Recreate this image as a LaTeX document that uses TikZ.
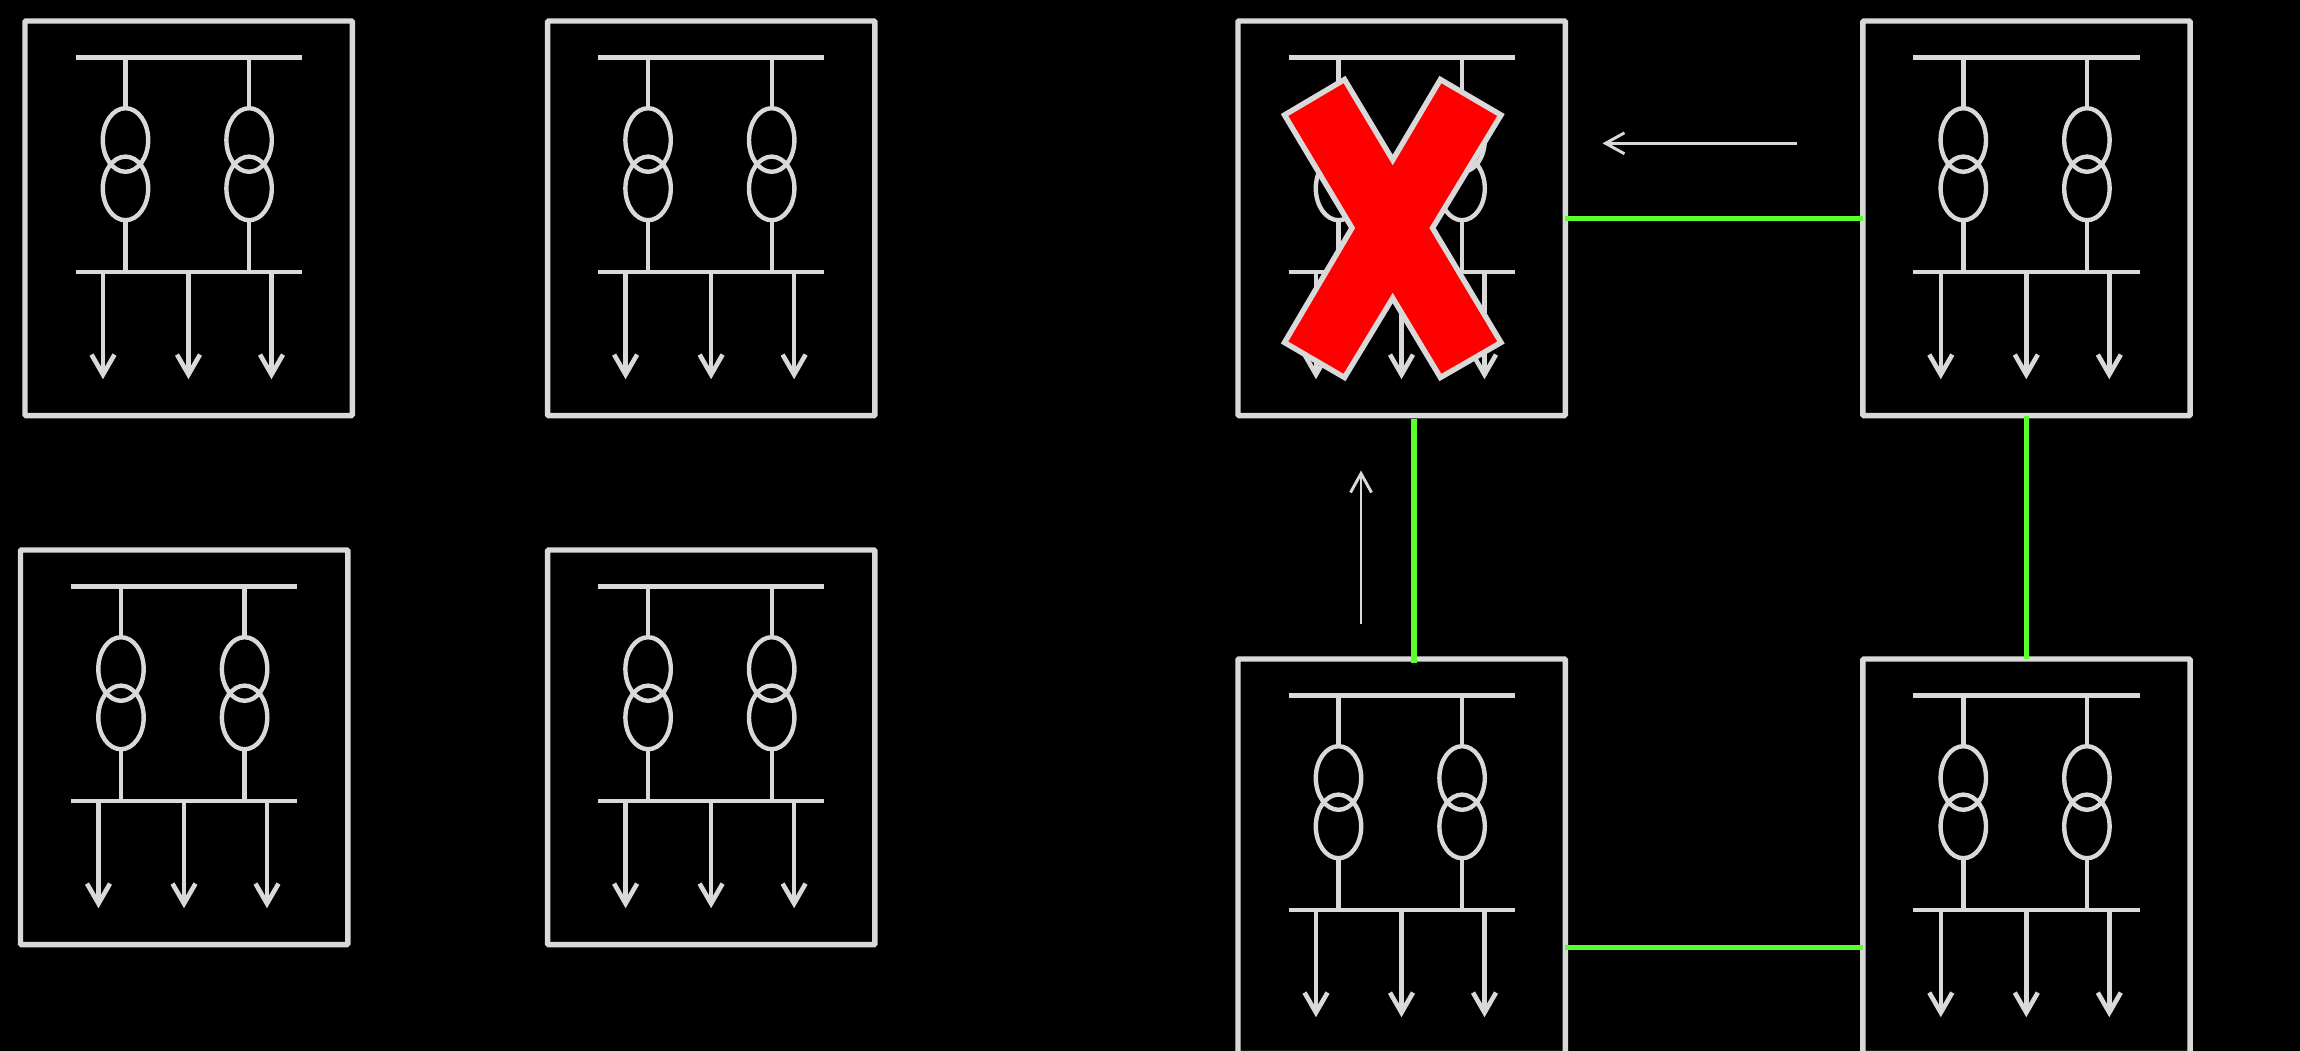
\documentclass[tikz,border=0pt]{standalone}
\usetikzlibrary{arrows.meta}
\definecolor{symgrey}{HTML}{D9D9D9}
\definecolor{linkgreen}{HTML}{5CFF2E}
\tikzset{
  x=1pt,y=-1pt,
  stationbox/.style={draw=symgrey,line width=5.4pt,rounded corners=1pt,minimum width=327.3pt,minimum height=394.6pt,inner sep=0pt,outer sep=0pt,anchor=north west},
  symline/.style={draw=symgrey,line width=4.4pt},
  feeder/.style={symline,-{Straight Barb[length=20pt,width=23pt,line width=4.6pt]}},
  linkline/.style={draw=linkgreen,line width=5.4pt},
  flowarrow/.style={draw=symgrey,line width=2.9pt,-{Straight Barb[length=19pt,width=21pt,line width=2.9pt]}},
  crossmark/.style={draw=symgrey,fill=red,line width=5.4pt,line join=miter}
}
\newcommand{\substation}[3]{%
  \node[stationbox] (#1) at (#2,#3) {};
  \begin{scope}[shift={(#2,#3)}]
    \draw[symline] (50.5,36.3) -- (276.8,36.3);
    \draw[symline] (50.5,251) -- (276.8,251);
    \draw[symline] (100.5,36.3) -- (100.5,87.6);
    \draw[symline] (224.1,36.3) -- (224.1,87.6);
    \draw[symline] (100.5,199) -- (100.5,251);
    \draw[symline] (224.1,199) -- (224.1,251);
    \draw[symline] (100.5,119) ellipse [x radius=22.7,y radius=31.8];
    \draw[symline] (100.5,167.4) ellipse [x radius=22.7,y radius=31.8];
    \draw[symline] (224.1,119) ellipse [x radius=22.7,y radius=31.8];
    \draw[symline] (224.1,167.4) ellipse [x radius=22.7,y radius=31.8];
    \draw[feeder] (78,251) -- (78,358.2);
    \draw[feeder] (163.5,251) -- (163.5,358.2);
    \draw[feeder] (246.5,251) -- (246.5,358.2);
  \end{scope}}
\begin{document}
\begin{tikzpicture}
  \useasboundingbox (0,0) rectangle (2300,1050);
  \fill[black] (-10,-10) rectangle (2310,1060);
  \substation{sa}{25}{21}
  \substation{sb}{547.6}{21}
  \substation{sc}{20.5}{550}
  \substation{sd}{547.6}{550}
  \substation{se}{1238}{21}
  \substation{sf}{1862.8}{21}
  \substation{sg}{1238}{659}
  \substation{sh}{1862.8}{659}
  % red cross over the failed substation
  \draw[crossmark] (1344.5,79.5) -- (1392.7,160) -- (1440.4,79.5) -- (1501,115) -- (1432.5,228)
     -- (1501,342.5) -- (1440.4,377.5) -- (1392.7,298) -- (1344.5,377.5) -- (1284.5,342.5)
     -- (1352,228) -- (1284.5,115) -- cycle;
  % links
  \coordinate (veTop) at (1414,418.7);
  \coordinate (veBot) at (1414,662.6);
  \coordinate (hgL) at (1565,947.5);
  \coordinate (hgR) at (1863,947.5);
  \draw[linkline] (se.east) -- (sf.west);
  \draw[linkline] (sf.south) -- (sh.north);
  \draw[linkline] (veTop) -- (veBot);
  \draw[linkline] (hgL) -- (hgR);
  % flow direction arrows
  \coordinate (fa) at (1797,143.3);
  \coordinate (fb) at (1602.5,143.3);
  \coordinate (fc) at (1361,623.5);
  \coordinate (fd) at (1361,470.5);
  \draw[flowarrow] (fa) -- (fb);
  \draw[flowarrow] (fc) -- (fd);
\end{tikzpicture}
\end{document}
